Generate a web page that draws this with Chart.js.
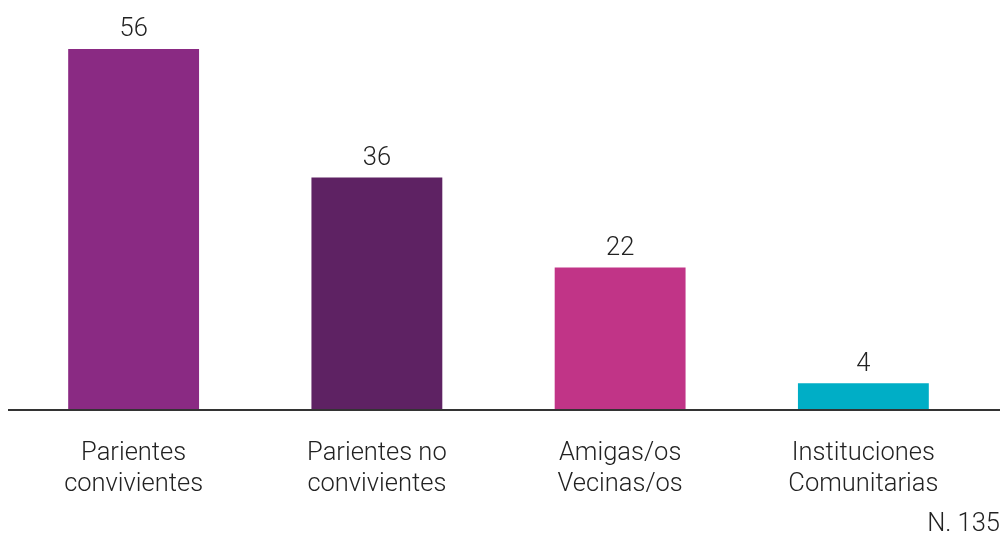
<!DOCTYPE html>
<html>
<head>
<meta charset="utf-8">
<script src="https://cdn.jsdelivr.net/npm/chart.js@4"></script>
<style>
    html, body { margin: 0; padding: 0; background: #fff; }
    #wrap { width: 1000px; height: 539px; position: relative; }
</style>
</head>
<body>
<div id="wrap"><canvas id="barChart"></canvas></div>
<script>
// datos del gráfico
var categorias = [['Parientes', 'convivientes'], ['Parientes no', 'convivientes'], ['Amigas/os', 'Vecinas/os'], ['Instituciones', 'Comunitarias']];
var valores = [56, 36, 22, 4];
var colores = ['#8a2a83', '#5e2263', '#c13487', '#00aec6'];
var nota = 'N. 135';

var fuente = '300 25.5px Roboto, "Open Sans", sans-serif';

// etiquetas, linea base y nota
var extras = {
    id: 'extras',
    afterDatasetsDraw: function (chart) {
        var ctx = chart.ctx;
        var x = chart.scales.x;
        var y = chart.scales.y;
        var meta = chart.getDatasetMeta(0);
        ctx.save();

        // linea base
        ctx.strokeStyle = '#333';
        ctx.lineWidth = 2;
        ctx.beginPath();
        ctx.moveTo(8, y.getPixelForValue(0) + 1);
        ctx.lineTo(chart.width, y.getPixelForValue(0) + 1);
        ctx.stroke();

        ctx.font = fuente;
        ctx.fillStyle = '#222';
        ctx.textAlign = 'center';
        ctx.textBaseline = 'middle';

        // valores arriba de las barras
        meta.data.forEach(function (bar, i) {
            ctx.fillText(valores[i], bar.x, bar.y - 19);
        });

        // categorias
        categorias.forEach(function (lineas, i) {
            var cx = x.getPixelForValue(i);
            lineas.forEach(function (t, j) {
                ctx.fillText(t, cx, 454 + j * 31);
            });
        });

        ctx.textAlign = 'right';
        ctx.fillText(nota, chart.width, 525);
        ctx.restore();
    }
};

var barArea = document.getElementById('barChart').getContext('2d');
var barChart = new Chart(barArea, {
    type: 'bar',
    data: {
        labels: categorias.map(function (c) { return c.join(' '); }),
        datasets: [
            {
                data: valores,
                backgroundColor: colores,
                borderWidth: 0,
                barPercentage: 1,
                categoryPercentage: 0.538
            }
        ]
    },
    options: {
        responsive: true,
        maintainAspectRatio: false,
        animation: false,
        layout: {
            padding: { top: 49, bottom: 130, left: 12, right: 15 }
        },
        scales: {
            x: { display: false },
            y: { display: false, min: 0, max: 56 }
        },
        plugins: {
            legend: { display: false },
            tooltip: { enabled: false }
        }
    },
    plugins: [extras]
});
</script>
</body>
</html>
